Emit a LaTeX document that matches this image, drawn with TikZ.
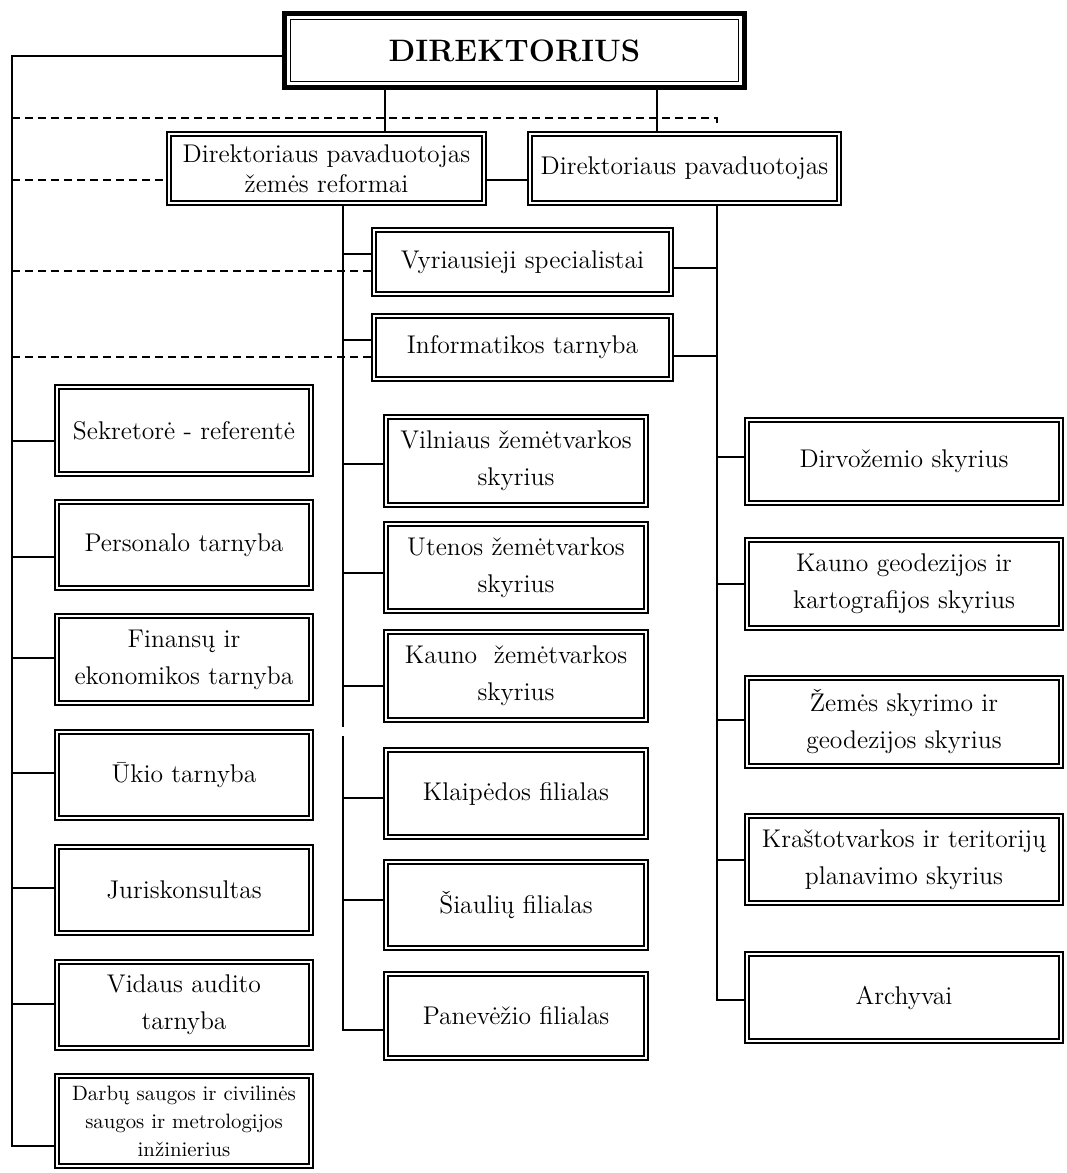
\documentclass[tikz,border=0pt]{standalone}
\usepackage{fontspec}
\usepackage{tikz}

\tikzset{
  unit/.style={draw, line width=0.6pt, inner sep=0pt, outer sep=0pt, align=center,
    font=\fontsize{12.8}{18.5}\selectfont,
    path picture={\draw[line width=1pt]
      ([shift={(2pt,2pt)}]path picture bounding box.south west) rectangle
      ([shift={(-2pt,-2pt)}]path picture bounding box.north east);}},
  head/.style={draw, line width=2.5pt, inner sep=0pt, outer sep=0pt,
    font=\fontsize{15.5}{18}\selectfont\bfseries,
    path picture={\draw[line width=0.6pt]
      ([shift={(2.9pt,2.9pt)}]path picture bounding box.south west) rectangle
      ([shift={(-2.9pt,-2.9pt)}]path picture bounding box.north east);}},
  link/.style={line width=0.8pt},
  dashlink/.style={line width=0.7pt, dash pattern=on 4pt off 2.5pt}
}

\begin{document}
\begin{tikzpicture}[x=0.5pt,y=-0.5pt]
  \useasboundingbox[fill=white] (0,0) rectangle (1066,1173);

  % top of the chart
  \node[head, minimum width=230pt, minimum height=37pt] (dir) at (514.5,50.5) {DIREKTORIUS};
  \node[unit, minimum width=159.5pt, minimum height=36.5pt, font=\fontsize{12.8}{15}\selectfont] (pavA) at (326.5,168.5) {Direktoriaus pavaduotojas\\ žemės reformai};
  \node[unit, minimum width=156.5pt, minimum height=36.5pt] (pavB) at (684.5,168.5) {Direktoriaus pavaduotojas};
  \node[unit, minimum width=150.5pt, minimum height=34pt] (vyr) at (522.5,262) {Vyriausieji specialistai};
  \node[unit, minimum width=150.5pt, minimum height=33.5pt] (inf) at (522.5,347.5) {Informatikos tarnyba};

  % left column
  \node[unit, minimum width=129pt, minimum height=45.5pt] (sek) at (184,430.5) {Sekretorė - referentė};
  \node[unit, minimum width=129pt, minimum height=45pt] (per) at (184,545) {Personalo tarnyba};
  \node[unit, minimum width=129pt, minimum height=45.5pt] (fin) at (184,659.5) {Finansų ir\\ ekonomikos tarnyba};
  \node[unit, minimum width=129pt, minimum height=45pt] (uki) at (184,775) {Ūkio tarnyba};
  \node[unit, minimum width=129pt, minimum height=45pt] (jur) at (184,890) {Juriskonsultas};
  \node[unit, minimum width=129pt, minimum height=45pt] (vid) at (184,1005) {Vidaus audito\\ tarnyba};
  \node[unit, minimum width=129pt, minimum height=47pt, font=\fontsize{10.4}{14}\selectfont] (dar) at (184,1121) {Darbų saugos ir civilinės\\ saugos ir metrologijos\\ inžinierius};

  % middle column
  \node[unit, minimum width=132pt, minimum height=46pt] (vil) at (516,461) {Vilniaus žemėtvarkos\\ skyrius};
  \node[unit, minimum width=132pt, minimum height=45.5pt] (ute) at (516,567.5) {Utenos žemėtvarkos\\ skyrius};
  \node[unit, minimum width=132pt, minimum height=46pt] (kau) at (516,676) {Kauno\ \ žemėtvarkos\\ skyrius};
  \node[unit, minimum width=132pt, minimum height=45.5pt] (kla) at (516,793.5) {Klaipėdos filialas};
  \node[unit, minimum width=132pt, minimum height=45pt] (sia) at (516,905) {Šiaulių filialas};
  \node[unit, minimum width=132pt, minimum height=44pt] (pan) at (516,1016) {Panevėžio filialas};

  % right column
  \node[unit, minimum width=159pt, minimum height=43.5pt] (dirv) at (904,461.5) {Dirvožemio skyrius};
  \node[unit, minimum width=159pt, minimum height=46pt] (kgeo) at (904,584) {Kauno geodezijos ir\\ kartografijos skyrius};
  \node[unit, minimum width=159pt, minimum height=46pt] (zem) at (904,722) {Žemės skyrimo ir\\ geodezijos skyrius};
  \node[unit, minimum width=159pt, minimum height=45.5pt] (kra) at (904,859.5) {Kraštotvarkos ir teritorijų\\ planavimo skyrius};
  \node[unit, minimum width=159pt, minimum height=45.5pt] (arc) at (904,997.5) {Archyvai};

  % trunks
  \coordinate (lt) at (12,56);
  \coordinate (mgap) at (343,727);
  \coordinate (mt) at (343,736);
  \coordinate (rt) at (717,1000);
  \coordinate (dt) at (717,126);

  \draw[link] (dir.west |- lt) -- (lt) |- (dar.west |- 0,1146);
  \draw[link] (dir.south -| 385,0) -- (pavA.north -| 385,0);
  \draw[link] (dir.south -| 657,0) -- (pavB.north -| 657,0);
  \draw[link] (pavA.east |- 0,180) -- (pavB.west |- 0,180);
  \draw[link] (pavA.south -| mgap) -- (mgap);
  \draw[link] (mt) |- (pan.west |- 0,1030);
  \draw[link] (pavB.south -| rt) -- (rt) -- (arc.west |- rt);

  % dashed lines
  \draw[dashlink] (lt |- 0,118) -| (dt);
  \draw[dashlink] (lt |- 0,180) -- (pavA.west |- 0,180);
  \draw[dashlink] (lt |- 0,271) -- (vyr.west |- 0,271);
  \draw[dashlink] (lt |- 0,357) -- (inf.west |- 0,357);

  % left branches
  \draw[link] (lt |- 0,441) -- (sek.west |- 0,441);
  \draw[link] (lt |- 0,557) -- (per.west |- 0,557);
  \draw[link] (lt |- 0,658) -- (fin.west |- 0,658);
  \draw[link] (lt |- 0,773) -- (uki.west |- 0,773);
  \draw[link] (lt |- 0,888) -- (jur.west |- 0,888);
  \draw[link] (lt |- 0,1004) -- (vid.west |- 0,1004);

  % middle branches
  \draw[link] (mt |- 0,254) -- (vyr.west |- 0,254);
  \draw[link] (mt |- 0,340) -- (inf.west |- 0,340);
  \draw[link] (mt |- 0,464) -- (vil.west |- 0,464);
  \draw[link] (mt |- 0,573) -- (ute.west |- 0,573);
  \draw[link] (mt |- 0,686) -- (kau.west |- 0,686);
  \draw[link] (mt |- 0,798) -- (kla.west |- 0,798);
  \draw[link] (mt |- 0,900) -- (sia.west |- 0,900);

  % right branches
  \draw[link] (vyr.east |- 0,268) -- (rt |- 0,268);
  \draw[link] (inf.east |- 0,356) -- (rt |- 0,356);
  \draw[link] (rt |- 0,457) -- (dirv.west |- 0,457);
  \draw[link] (rt |- 0,584) -- (kgeo.west |- 0,584);
  \draw[link] (rt |- 0,720) -- (zem.west |- 0,720);
  \draw[link] (rt |- 0,860) -- (kra.west |- 0,860);
\end{tikzpicture}
\end{document}
